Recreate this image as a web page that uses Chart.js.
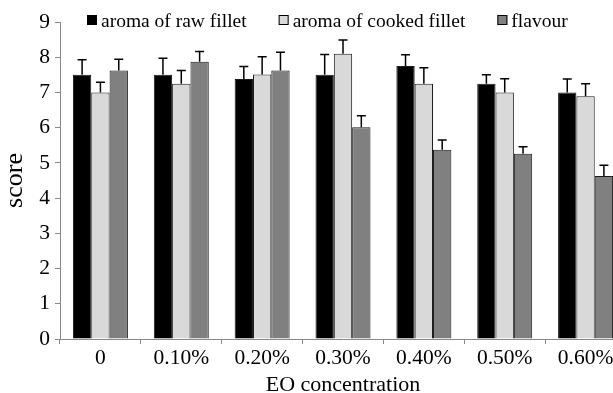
<!DOCTYPE html>
<html><head><meta charset="utf-8">
<script src="https://cdn.jsdelivr.net/npm/chart.js"></script>
<style>
html,body{margin:0;padding:0;background:#fff;overflow:hidden}
#wrap{width:613px;height:393px;overflow:hidden;position:relative;background:#fff}
#c{position:absolute;left:0;top:0}
</style></head><body>
<div id="wrap"><canvas id="c" width="626" height="400"></canvas></div>
<script>
const categories = ['0', '0.10%', '0.20%', '0.30%', '0.40%', '0.50%', '0.60%'];
const seriesNames = ['aroma of raw fillet', 'aroma of cooked fillet', 'flavour'];
const rawFillet = [7.5, 7.5, 7.38, 7.5, 7.75, 7.25, 7.0];
const rawFilletErr = [0.43, 0.47, 0.36, 0.58, 0.32, 0.25, 0.38];
const cookedFillet = [7.0, 7.25, 7.51, 8.1, 7.25, 7.0, 6.89];
const cookedFilletErr = [0.29, 0.37, 0.5, 0.39, 0.45, 0.39, 0.36];
const flavour = [7.62, 7.87, 7.62, 6.01, 5.37, 5.26, 4.63];
const flavourErr = [0.32, 0.29, 0.52, 0.33, 0.28, 0.2, 0.3];
const yMin = 0, yMax = 9, yStep = 1;
const seriesColors = ['#000000', '#d9d9d9', '#808080'];
const errors = [rawFilletErr, cookedFilletErr, flavourErr];

const FONT = '"Liberation Serif", "Times New Roman", serif';

const errorBarPlugin = {
  id: 'errorBars',
  afterDatasetsDraw(chart) {
    const ctx = chart.ctx;
    const yScale = chart.scales.y;
    ctx.save();
    ctx.strokeStyle = '#000';
    ctx.lineWidth = 1.5;
    chart.data.datasets.forEach((ds, di) => {
      const meta = chart.getDatasetMeta(di);
      meta.data.forEach((el, i) => {
        const v = ds.data[i];
        const e = ds.errors[i];
        const yTop = yScale.getPixelForValue(v + e);
        const yBar = yScale.getPixelForValue(v);
        ctx.beginPath();
        ctx.moveTo(el.x, yBar);
        ctx.lineTo(el.x, yTop);
        ctx.moveTo(el.x - 4.5, yTop);
        ctx.lineTo(el.x + 4.5, yTop);
        ctx.stroke();
      });
    });
    ctx.restore();
  }
};

const legendPlugin = {
  id: 'customLegend',
  afterDraw(chart) {
    const ctx = chart.ctx;
    ctx.save();
    ctx.font = '19.5px ' + FONT;
    ctx.textBaseline = 'alphabetic';
    ctx.textAlign = 'left';
    let x = 87;
    chart.data.datasets.forEach((ds) => {
      ctx.fillStyle = ds.backgroundColor;
      ctx.fillRect(x, 15, 10, 10);
      ctx.strokeStyle = '#000';
      ctx.lineWidth = 1;
      ctx.strokeRect(x + 0.5, 15.5, 9, 9);
      ctx.fillStyle = '#000';
      ctx.fillText(ds.label, x + 14, 27);
      x += 14 + ctx.measureText(ds.label).width + 32;
    });
    ctx.restore();
  }
};

const seriesData = [rawFillet, cookedFillet, flavour];
new Chart(document.getElementById('c'), {
  type: 'bar',
  data: {
    labels: categories,
    datasets: seriesData.map((d, i) => ({
      label: seriesNames[i],
      data: d,
      errors: errors[i],
      backgroundColor: seriesColors[i],
      borderColor: '#1a1a1a',
      borderWidth: 1,
      categoryPercentage: 0.68,
      barPercentage: 1
    }))
  },
  options: {
    responsive: false,
    animation: false,
    layout: { padding: { top: 22, left: 0, right: 0, bottom: 0 } },
    plugins: { legend: { display: false }, tooltip: { enabled: false } },
    scales: {
      x: {
        afterFit(s) { s.height = 61; },
        border: { color: '#888', width: 1 },
        grid: { display: true, offset: true, drawOnChartArea: false, drawTicks: true, tickLength: 5, color: '#888' },
        ticks: { color: '#000', padding: 1, font: { family: FONT, size: 21.5 } },
        title: { display: true, text: 'EO concentration', color: '#000', font: { family: FONT, size: 22 }, padding: { top: 0, bottom: 2 } }
      },
      y: {
        min: yMin, max: yMax,
        afterFit(s) { s.width = 60; },
        border: { color: '#888', width: 1 },
        grid: { display: true, drawOnChartArea: false, drawTicks: true, tickLength: 5, color: '#888' },
        ticks: { stepSize: yStep, color: '#000', padding: 5, font: { family: FONT, size: 21.5 } },
        title: { display: true, text: 'score', color: '#000', font: { family: FONT, size: 26 }, padding: { top: 0, bottom: 0 } }
      }
    }
  },
  plugins: [errorBarPlugin, legendPlugin]
});
</script>
</body></html>
